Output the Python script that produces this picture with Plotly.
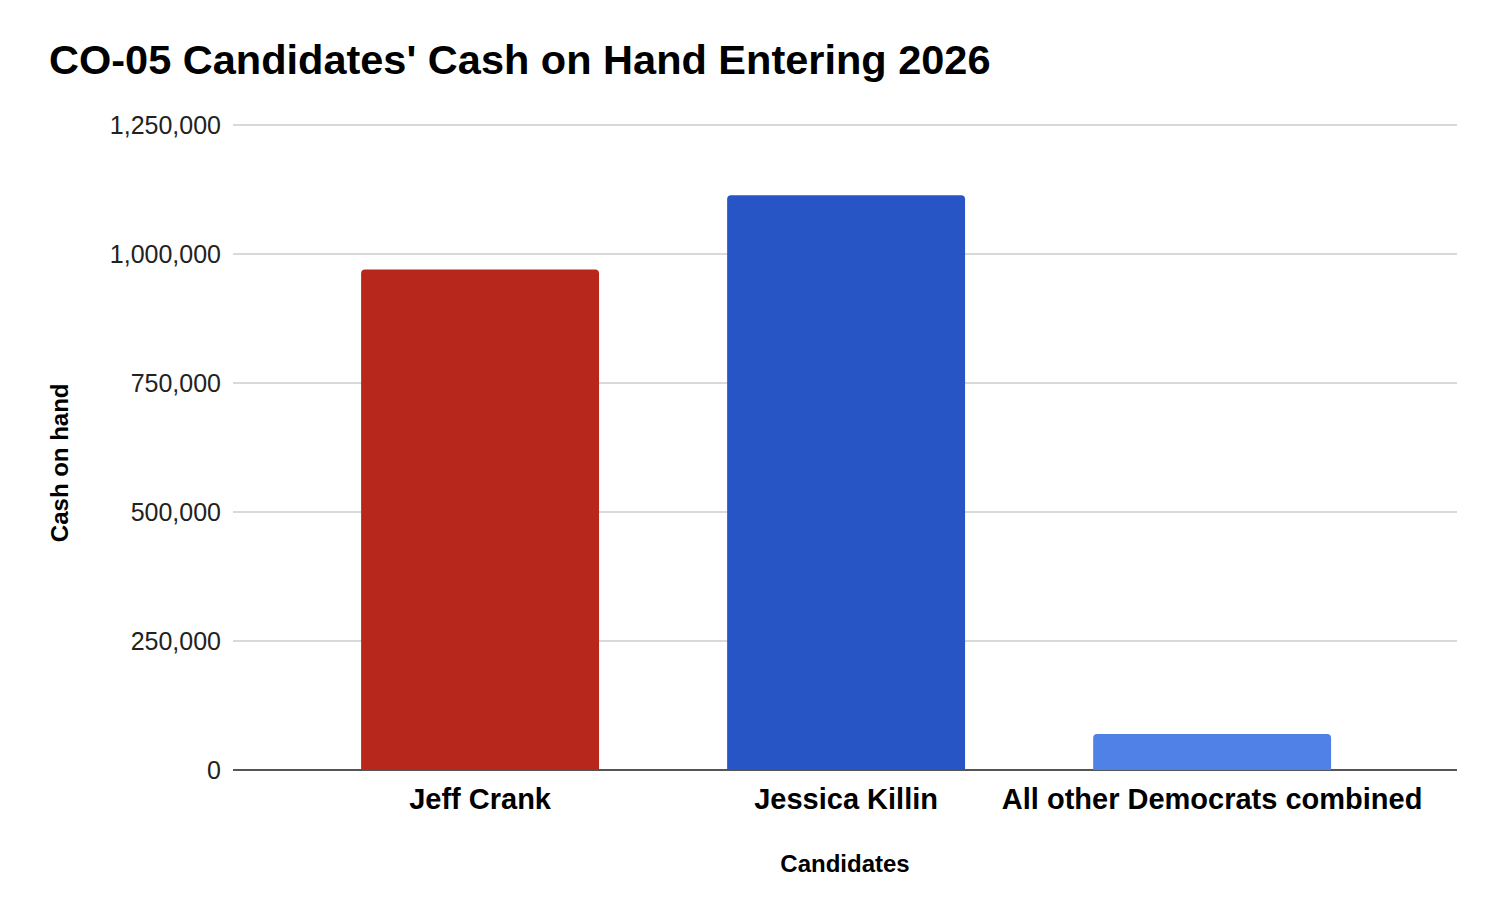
import plotly.graph_objects as go

candidates = ["Jeff Crank", "Jessica Killin", "All other Democrats combined"]
cash_on_hand = [970000, 1114000, 70000]
bar_colors = ["#B8271C", "#2855C5", "#4F81E7"]
y_ticks = [0, 250000, 500000, 750000, 1000000, 1250000]

FONT = "Liberation Sans, Arial, sans-serif"

fig = go.Figure(
    go.Bar(
        x=candidates,
        y=cash_on_hand,
        marker=dict(color=bar_colors, line=dict(width=0), cornerradius=4),
        width=0.65,
        hoverinfo="x+y",
    )
)

fig.update_layout(
    width=1500,
    height=897,
    paper_bgcolor="white",
    plot_bgcolor="white",
    margin=dict(l=225, r=51, t=116, b=135),
    title=dict(
        text="<b>CO-05 Candidates' Cash on Hand Entering 2026</b>",
        font=dict(family=FONT, size=41.5, color="#000000"),
        x=41 / 1500,
        xanchor="left",
        xref="container",
        y=1 - 51 / 897,
        yanchor="middle",
        yref="container",
    ),
    showlegend=False,
)

fig.add_annotation(
    text="<b>Cash on hand</b>",
    textangle=-90,
    xref="paper",
    yref="paper",
    x=0,
    y=0.475,
    xshift=-174,
    xanchor="center",
    yanchor="middle",
    showarrow=False,
    font=dict(family=FONT, size=24, color="#000000"),
)

fig.update_xaxes(
    type="category",
    range=[-0.675, 2.669],
    showgrid=False,
    showline=False,
    zeroline=False,
    ticks="",
    tickfont=dict(family=FONT, size=29, color="#000000", weight="bold"),
    ticklabelstandoff=9,
    title=dict(
        text="<b>Candidates</b>",
        font=dict(family=FONT, size=24, color="#000000"),
        standoff=41,
    ),
)

fig.update_yaxes(
    range=[0, 1252000],
    tickvals=y_ticks,
    tickformat=",",
    showgrid=True,
    gridcolor="#D9D9D9",
    gridwidth=2,
    zeroline=True,
    zerolinecolor="#555555",
    zerolinewidth=2,
    showline=False,
    ticks="",
    tickfont=dict(family=FONT, size=25, color="#222222"),
    ticklabelstandoff=11,
)

fig.write_html("out.html")
